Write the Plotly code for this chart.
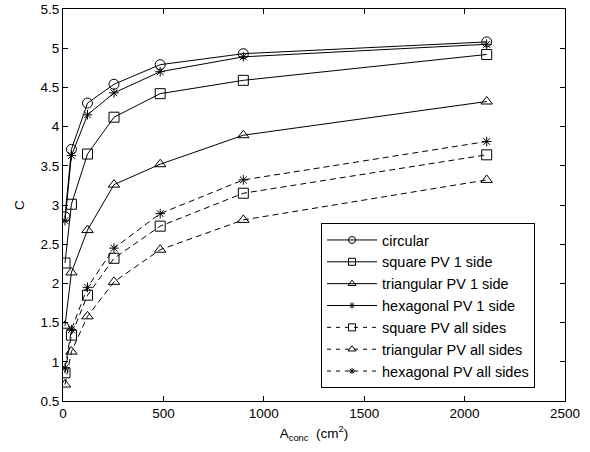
import plotly.graph_objects as go

x_area = [10, 42, 122, 254, 484, 898, 2110]

circular = [2.85, 3.71, 4.30, 4.54, 4.79, 4.93, 5.08]
square_1 = [2.26, 3.01, 3.65, 4.12, 4.42, 4.59, 4.92]
triang_1 = [1.46, 2.14, 2.68, 3.26, 3.52, 3.89, 4.32]
hexag_1 = [2.80, 3.63, 4.15, 4.43, 4.70, 4.89, 5.05]
square_all = [0.86, 1.34, 1.85, 2.32, 2.73, 3.15, 3.64]
triang_all = [0.71, 1.13, 1.58, 2.02, 2.43, 2.81, 3.32]
hexag_all = [0.92, 1.41, 1.95, 2.45, 2.89, 3.32, 3.81]

names = ["circular", "square PV 1 side", "triangular PV 1 side", "hexagonal PV 1 side",
         "square PV all sides", "triangular PV all sides", "hexagonal PV all sides"]
values = [circular, square_1, triang_1, hexag_1, square_all, triang_all, hexag_all]
symbols = ["circle-open", "square-open", "triangle-up-open", "asterisk-open",
           "square-open", "triangle-up-open", "asterisk-open"]
dashes = ["solid"] * 4 + ["6px,4px"] * 3
sizes = [10, 10, 10, 8, 10, 10, 8]

FONT = "Liberation Sans, Arial, sans-serif"

fig = go.Figure()
for name, ys, sym, dash, sz in zip(names, values, symbols, dashes, sizes):
    fig.add_trace(go.Scatter(
        x=x_area, y=ys, name=name, mode="lines+markers", showlegend=False,
        line=dict(color="black", width=1, dash=dash),
        marker=dict(symbol=sym, size=sz, color="black", line=dict(width=1, color="black")),
    ))
# legend entries (smaller markers, as in the reference legend)
for i, (name, sym, dash, sz) in enumerate(zip(names, symbols, dashes, sizes)):
    fig.add_trace(go.Scatter(
        x=[None], y=[None], name=name, mode="lines+markers", legendgroup=f"g{i}",
        line=dict(color="black", width=1, dash="4px,5px" if dash != "solid" else "solid"),
        marker=dict(symbol=sym, size=sz - 3, color="black", line=dict(width=1, color="black")),
    ))

axis_common = dict(
    showgrid=False, zeroline=False, showline=True, linecolor="black", linewidth=1,
    mirror="ticks", ticks="inside", ticklen=5, tickcolor="black", automargin=False,
    tickfont=dict(family=FONT, size=13.5, color="black"),
)

fig.update_layout(
    width=590, height=452,
    margin=dict(l=63, r=25, t=9, b=51),
    paper_bgcolor="white", plot_bgcolor="white",
    font=dict(family=FONT, size=13.5, color="black"),
    xaxis=dict(range=[0, 2500], dtick=500, tick0=0,
               title=dict(text="A<sub>conc</sub>  (cm<sup>2</sup>)", standoff=8,
                          font=dict(size=13.5)), **axis_common),
    yaxis=dict(range=[0.5, 5.5], dtick=0.5, tick0=0.5,
               title=dict(text="C", standoff=12, font=dict(size=13.5)), **axis_common),
    showlegend=True,
    legend=dict(x=0.514, y=0.454, xanchor="left", yanchor="top",
                bordercolor="black", borderwidth=1, bgcolor="white",
                font=dict(size=14.5), tracegroupgap=0, itemwidth=50),
)

fig.write_html("out.html", config={"displayModeBar": False},
               post_script="document.body.style.margin='0';")
